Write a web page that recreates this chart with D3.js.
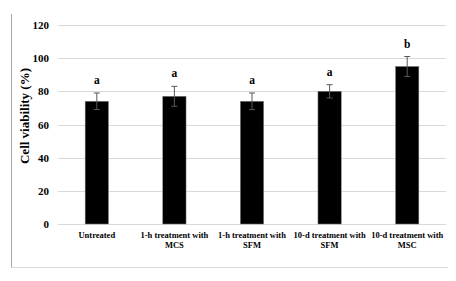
<!DOCTYPE html>
<html>
<head>
<meta charset="utf-8">
<script src="https://cdn.jsdelivr.net/npm/d3@7"></script>
<style>
body { margin:0; background:#fff; }
text { font-family: "Liberation Serif", "Times New Roman", serif; font-weight: bold; }
</style>
</head>
<body>
<div id="chart"></div>
<script>
const groups = [["Untreated"], ["1-h treatment with", "MCS"], ["1-h treatment with", "SFM"], ["10-d treatment with", "SFM"], ["10-d treatment with", "MSC"]]
const viability = [74, 77, 74, 80, 95]
const errors = [5, 6, 5, 4, 6]
const letters = ["a", "a", "a", "a", "b"]
const yTicks = [0, 20, 40, 60, 80, 100, 120]

const W = 456, H = 281
const margin = {top:25, right:10, bottom:57, left:58}
const width = 446 - margin.left
const height = 224 - margin.top

const root = d3.select("#chart").append("svg")
    .attr("width", W)
    .attr("height", H)

// outer frame (left and bottom edges only visible)
root.append("line").attr("x1", 11.5).attr("x2", 11.5).attr("y1", 14).attr("y2", 267.5)
    .attr("stroke", "#a6a6a6").attr("stroke-width", 1)
root.append("line").attr("x1", 11.5).attr("x2", 448).attr("y1", 267.5).attr("y2", 267.5)
    .attr("stroke", "#d9d9d9").attr("stroke-width", 1)

const svg = root.append("g")
    .attr("transform", "translate(" + margin.left + "," + margin.top + ")")

const x = d3.scaleBand()
    .range([0, width])
    .domain(d3.range(groups.length))
    .paddingInner(0.7)
    .paddingOuter(0.35)

const y = d3.scaleLinear()
    .range([height, 0])
    .domain([0, 120])

// gridlines
svg.selectAll(".grid")
    .data(yTicks)
    .enter().append("line")
    .attr("x1", 0).attr("x2", width)
    .attr("y1", d => Math.round(y(d)) + 0.5).attr("y2", d => Math.round(y(d)) + 0.5)
    .attr("stroke", "#d9d9d9")

const yAxis = d3.axisLeft(y).tickValues(yTicks).tickSize(0).tickPadding(9)
svg.append("g")
    .call(yAxis)
    .call(g => g.select(".domain").remove())
    .selectAll("text")
    .style("font-size", "11px")
    .attr("fill", "#000")

svg.selectAll(".bar")
    .data(viability)
    .enter().append("rect")
    .attr("class", "bar")
    .attr("x", (d, i) => x(i))
    .attr("width", x.bandwidth())
    .attr("y", d => y(d))
    .attr("height", d => height - y(d))
    .attr("fill", "#000")
    .attr("stroke", "#7f7f7f")
    .attr("stroke-width", 0.5)

// error bars
const eb = svg.selectAll(".err")
    .data(viability)
    .enter().append("g")
    .attr("stroke", "#595959")
    .attr("stroke-width", 1)
eb.append("line")
    .attr("x1", (d, i) => x(i) + x.bandwidth() / 2)
    .attr("x2", (d, i) => x(i) + x.bandwidth() / 2)
    .attr("y1", (d, i) => y(d + errors[i]))
    .attr("y2", (d, i) => y(d - errors[i]))
eb.append("line")
    .attr("x1", (d, i) => x(i) + x.bandwidth() / 2 - 3)
    .attr("x2", (d, i) => x(i) + x.bandwidth() / 2 + 3)
    .attr("y1", (d, i) => y(d + errors[i]))
    .attr("y2", (d, i) => y(d + errors[i]))
eb.append("line")
    .attr("x1", (d, i) => x(i) + x.bandwidth() / 2 - 3)
    .attr("x2", (d, i) => x(i) + x.bandwidth() / 2 + 3)
    .attr("y1", (d, i) => y(d - errors[i]))
    .attr("y2", (d, i) => y(d - errors[i]))

// significance letters
svg.selectAll(".letter")
    .data(letters)
    .enter().append("text")
    .attr("x", (d, i) => x(i) + x.bandwidth() / 2)
    .attr("y", (d, i) => y(viability[i] + errors[i]) - 9)
    .attr("text-anchor", "middle")
    .style("font-size", "11.5px")
    .text(d => d)

// category labels
const lab = svg.selectAll(".lab")
    .data(groups)
    .enter().append("text")
    .attr("x", (d, i) => x(i) + x.bandwidth() / 2)
    .attr("y", height + 14)
    .attr("text-anchor", "middle")
    .style("font-size", "8.5px")
lab.selectAll("tspan")
    .data(d => d)
    .enter().append("tspan")
    .attr("x", function() { return this.parentNode.getAttribute("x") })
    .attr("dy", (d, j) => j ? 10 : 0)
    .text(d => d)

svg.append("text")
    .attr("transform", "translate(" + (29 - margin.left) + "," + (116 - margin.top) + ") rotate(-90)")
    .attr("text-anchor", "middle")
    .style("font-size", "13px")
    .text("Cell viability (%)")
</script>
</body>
</html>
